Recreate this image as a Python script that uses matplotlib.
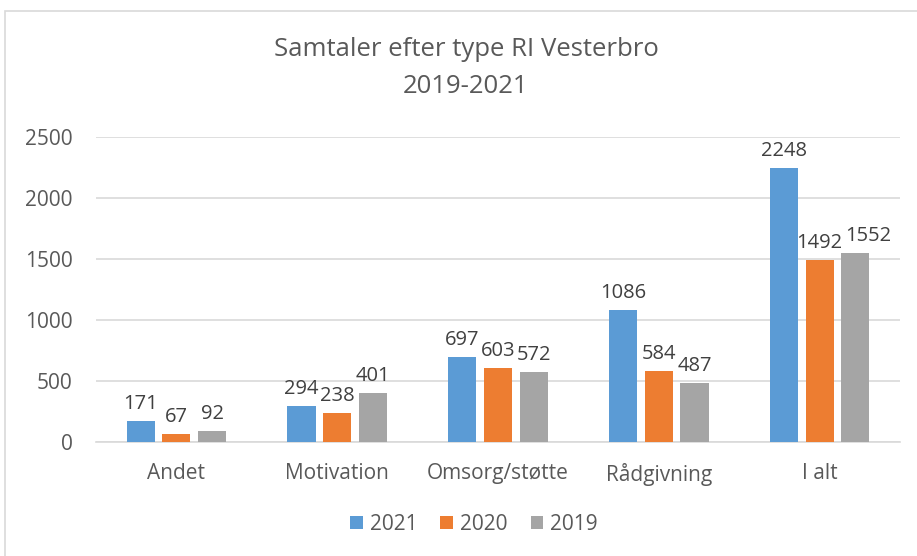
import numpy as np
from matplotlib import pyplot as plt
from matplotlib.patches import Rectangle

categories = ["Andet", "Motivation", "Omsorg/støtte", "Rådgivning", "I alt"]
years = ["2021", "2020", "2019"]
values_2021 = [171, 294, 697, 1086, 2248]
values_2020 = [67, 238, 603, 584, 1492]
values_2019 = [92, 401, 572, 487, 1552]
colors = ["#5b9bd5", "#ed7d31", "#a5a5a5"]

text_color = "#595959"
plt.rcParams["font.family"] = ["Open Sans", "DejaVu Sans"]

fig = plt.figure(figsize=(9.17, 5.56), dpi=100)
# outer chart border (cut off at right and bottom like the screenshot)
fig.patches.append(Rectangle((5 / 917, -0.1), 1.2, 1 - 11 / 556 + 0.1,
                             transform=fig.transFigure, fill=False,
                             edgecolor="#d9d9d9", linewidth=1.2))

ax = fig.add_axes([96 / 917, 1 - 442 / 556, (900 - 96) / 917, (442 - 137) / 556])

x = np.arange(len(categories))
width = 0.175
step = 0.222
# excel nudged the 1552 label to the right so it doesn't hit 1492
label_dx = {(2, 4): 9}
series = [values_2021, values_2020, values_2019]
for i, vals in enumerate(series):
    pos = x + (i - 1) * step
    bars = ax.bar(pos, vals, width, color=colors[i], label=years[i], zorder=3)
    for j, (b, v) in enumerate(zip(bars, vals)):
        ax.annotate(str(v), (b.get_x() + b.get_width() / 2, v),
                    xytext=(label_dx.get((i, j), 0), 5), textcoords="offset points",
                    ha="center", va="bottom", fontsize=14.5, color="#404040")

ax.set_xlim(-0.5, len(categories) - 0.5)
ax.set_ylim(0, 2500)
ax.set_yticks(range(0, 2501, 500))
ax.yaxis.grid(True, color="#d9d9d9", linewidth=1.2, zorder=0)
ax.set_xticks(x)
ax.set_xticklabels(categories)
ax.tick_params(axis="both", length=0, labelsize=15, colors=text_color)
ax.tick_params(axis="x", pad=15)
ax.tick_params(axis="y", pad=17)
for s in ["top", "right", "left"]:
    ax.spines[s].set_visible(False)
ax.spines["bottom"].set_color("#d9d9d9")
ax.spines["bottom"].set_linewidth(1.2)

fig.text(466 / 917, 1 - 68 / 556, "Samtaler efter type RI Vesterbro\n2019-2021",
         ha="center", va="center", fontsize=18.5, color=text_color, linespacing=1.6)

ax.legend(loc="center", bbox_to_anchor=(474 / 917, 1 - 524 / 556),
          bbox_transform=fig.transFigure, ncol=3, frameon=False,
          fontsize=15, labelcolor=text_color, handlelength=0.6,
          handleheight=0.6, handletextpad=0.35, columnspacing=1.1)

fig.savefig("out.png", dpi=100)
